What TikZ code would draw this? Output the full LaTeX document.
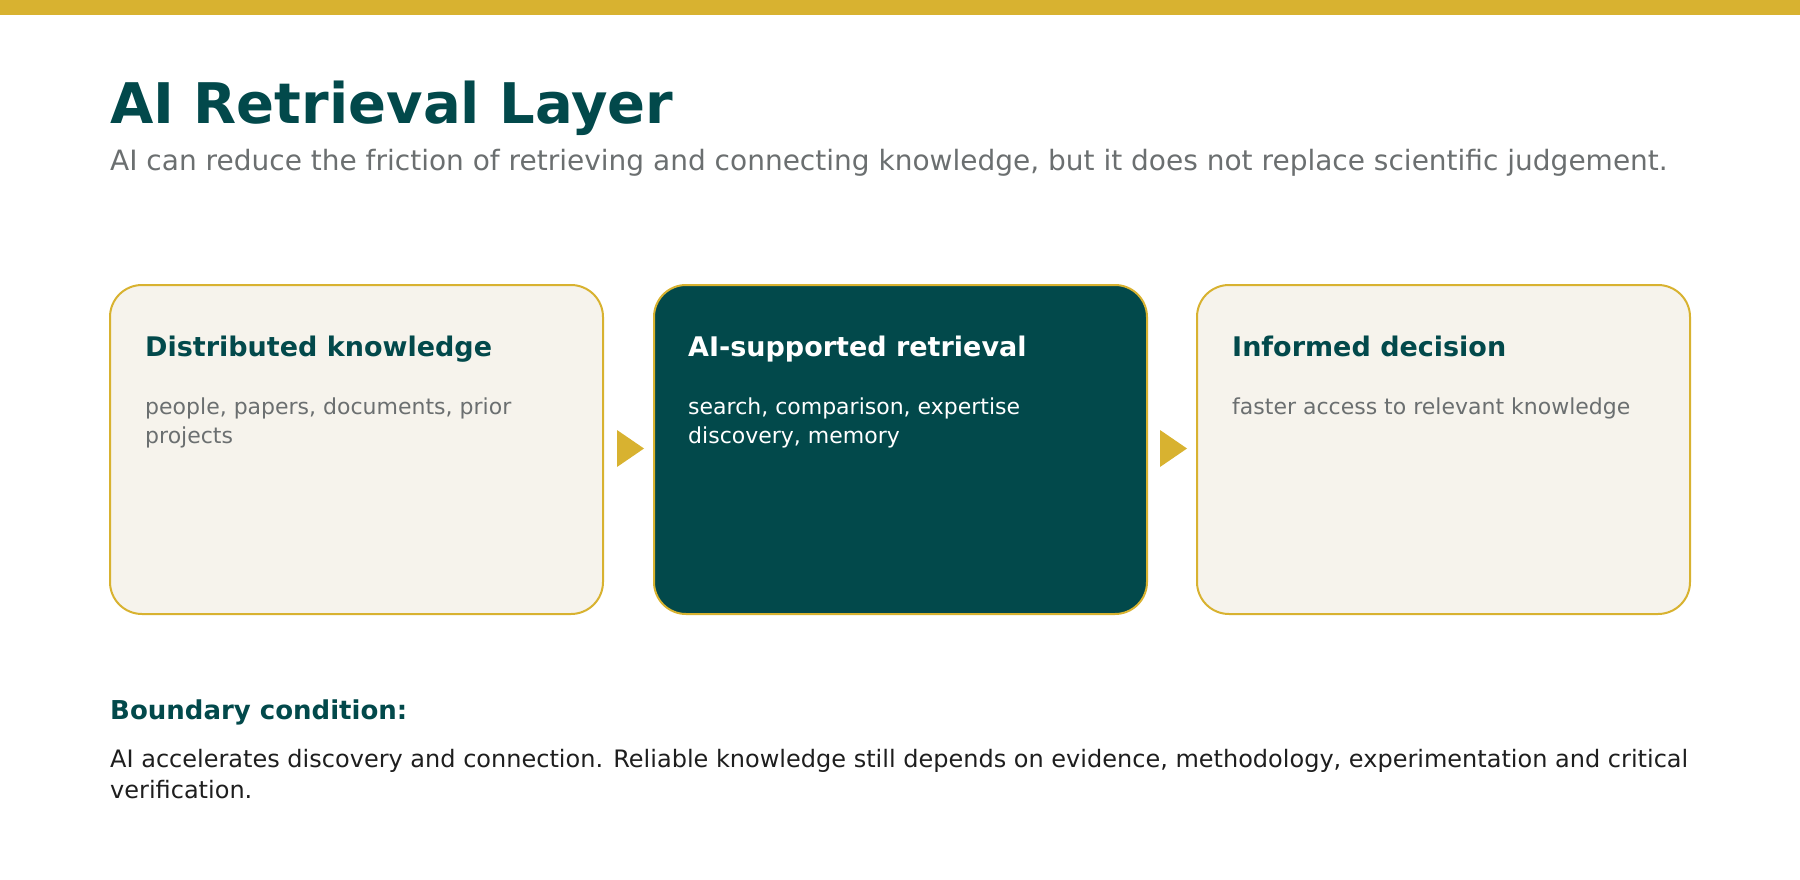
\documentclass[tikz,border=0pt]{standalone}
\usepackage{fontspec}
\setmainfont{DejaVu Sans}
\definecolor{teal}{HTML}{02494B}
\definecolor{gold}{HTML}{D8B230}
\definecolor{cream}{HTML}{F6F3EC}
\definecolor{gry}{HTML}{6B6F70}
\definecolor{ink}{HTML}{1E1E1E}
\begin{document}
\begin{tikzpicture}[x=1pt,y=-1pt,
 box/.style={draw=gold,line width=2pt,rounded corners=32pt},
 ttl/.style={anchor=base west,inner sep=0,font=\fontsize{27}{30}\selectfont\bfseries},
 bdy/.style={anchor=base west,inner sep=0,font=\fontsize{22}{29}\selectfont,align=left},
 arr/.style={fill=gold}]
\useasboundingbox (0,0) rectangle (1800,880);
\fill[gold] (0,0) rectangle (1800,15);
\node[anchor=base west,inner sep=0,text=teal,font=\fontsize{56}{60}\selectfont\bfseries] (title) at (110,124) {AI Retrieval Layer};
\node[anchor=base west,inner sep=0,text=gry,font=\fontsize{28}{30}\selectfont] (sub) at (110,171) {AI can reduce the friction of retrieving and connecting knowledge, but it does not replace scientific judgement.};
\draw[box,fill=cream] (110,285) rectangle (603,614);
\draw[box,fill=teal] (654,285) rectangle (1147,614);
\draw[box,fill=cream] (1197,285) rectangle (1690,614);
\node[ttl,text=teal] (t1) at (145,356) {Distributed knowledge};
\node[ttl,text=white] (t2) at (688,356) {AI-supported retrieval};
\node[ttl,text=teal] (t3) at (1232,356) {Informed decision};
\node[bdy,text=gry] (b1) at (145,443) {people, papers, documents, prior\\projects};
\node[bdy,text=white] (b2) at (688,443) {search, comparison, expertise\\discovery, memory};
\node[bdy,text=gry] (b3) at (1232,414) {faster access to relevant knowledge};
\fill[arr] (617,430) -- (644,448.5) -- (617,467) -- cycle;
\fill[arr] (1160,430) -- (1187,448.5) -- (1160,467) -- cycle;
\node[anchor=base west,inner sep=0,text=teal,font=\fontsize{26}{30}\selectfont\bfseries] (bc) at (110,719) {Boundary condition:};
\node[anchor=base west,inner sep=0,text=ink,font=\fontsize{24}{31}\selectfont,align=left] (bt) at (110,798) {AI accelerates discovery and connection. Reliable knowledge still depends on evidence, methodology, experimentation and critical\\verification.};
\end{tikzpicture}
\end{document}
